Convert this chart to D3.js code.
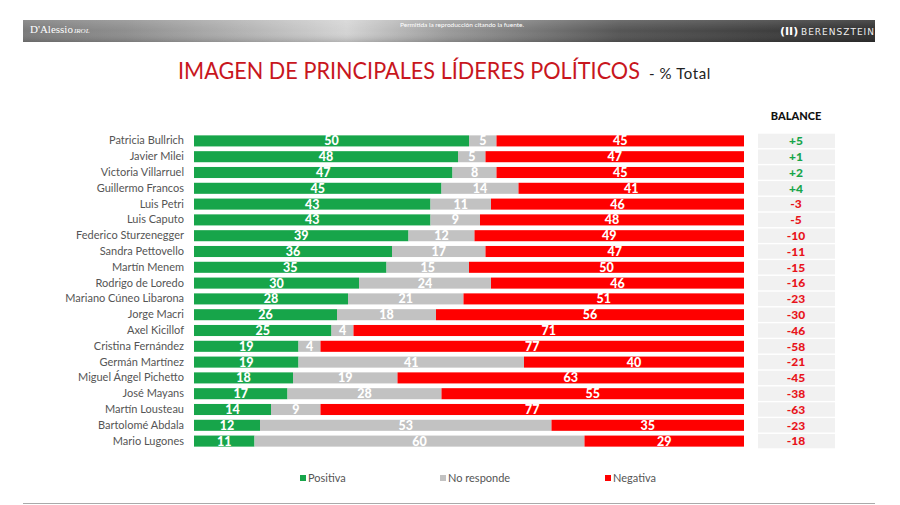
<!DOCTYPE html>
<html><head><meta charset="utf-8">
<script src="https://cdn.jsdelivr.net/npm/d3@7"></script>
<style>body{margin:0;background:#fff}svg{display:block}</style>
</head><body>
<svg id="c" width="900" height="505"></svg>
<script>
const names = ["Patricia Bullrich","Javier Milei ","Victoria Villarruel","Guillermo Francos","Luis Petri","Luis Caputo","Federico Sturzenegger","Sandra Pettovello","Martín Menem","Rodrigo de Loredo","Mariano Cúneo Libarona","Jorge Macri","Axel Kicillof","Cristina Fernández","Germán Martínez","Miguel Ángel Pichetto","José Mayans","Martín Lousteau","Bartolomé Abdala","Mario Lugones"];
const positiva = [50,48,47,45,43,43,39,36,35,30,28,26,25,19,19,18,17,14,12,11];
const noResponde = [5,5,8,14,11,9,12,17,15,24,21,18,4,4,41,19,28,9,53,60];
const negativa = [45,47,45,41,46,48,49,47,50,46,51,56,71,77,40,63,55,77,35,29];
const balance = ["+5","+1","+2","+4","-3","-5","-10","-11","-15","-16","-23","-30","-46","-58","-21","-45","-38","-63","-23","-18"];
const seriesNames = ["Positiva","No responde","Negativa"];
const colors = ["#17a54a","#c2c2c2","#ff0000"];

const svg = d3.select("#c");
const defs = svg.append("defs");
const g1 = defs.append("linearGradient").attr("id","hdr").attr("x1","0").attr("x2","1").attr("y1","0").attr("y2","0");
[[0,"#7a7a7a"],[0.12,"#8e8e8e"],[0.38,"#d4d4d4"],[0.5,"#9a9a9a"],[0.7,"#555"],[1,"#2e2e2e"]].forEach(([o,c])=>g1.append("stop").attr("offset",o).attr("stop-color",c));
const g2 = defs.append("linearGradient").attr("id","hdrv").attr("x1","0").attr("x2","0").attr("y1","0").attr("y2","1");
[[0,"rgba(255,255,255,0.15)"],[0.5,"rgba(255,255,255,0)"],[1,"rgba(0,0,0,0.15)"]].forEach(([o,c])=>g2.append("stop").attr("offset",o).attr("stop-color",c));

// header bar
svg.append("rect").attr("x",23).attr("y",20).attr("width",852).attr("height",22).attr("fill","url(#hdr)");
svg.append("rect").attr("x",23).attr("y",20).attr("width",852).attr("height",22).attr("fill","url(#hdrv)");
svg.append("text").attr("x",30).attr("y",33).attr("font-family","Liberation Serif, serif").attr("font-size",11).attr("fill","#fff").text("D'Alessio");
svg.append("text").attr("x",74).attr("y",33).attr("font-family","Liberation Serif, serif").attr("font-style","italic").attr("font-size",7).attr("fill","#fff").text("IROL");
svg.append("text").attr("x",462).attr("y",27).attr("text-anchor","middle").attr("font-family","Liberation Sans Narrow, Lato, sans-serif").attr("font-size",6.5).attr("fill","#fff").text("Permitida la reproducción citando la fuente.");
svg.append("text").attr("x",780).attr("y",35).attr("font-family","DejaVu Sans, sans-serif").attr("font-weight","bold").attr("font-size",11).attr("fill","#fff").text("(II)");
svg.append("text").attr("x",801).attr("y",35).attr("font-family","DejaVu Sans, sans-serif").attr("font-size",9).attr("letter-spacing",1).attr("fill","#eee").text("BERENSZTEIN");

// title (horizontally condensed to mimic the narrow original face)
const t1 = svg.append("text").attr("font-family","Lato, sans-serif")
  .attr("fill","#c8161d").attr("font-size",24)
  .text("IMAGEN DE PRINCIPALES LÍDERES POLÍTICOS");
const w1 = t1.node().getComputedTextLength();
t1.attr("transform",`translate(178,79) scale(${462/w1},1)`);
svg.append("text").attr("x",649).attr("y",79).attr("font-family","Lato, sans-serif")
  .attr("fill","#222").attr("font-size",15).attr("letter-spacing",0.6).text("- % Total");

// scales
const y = d3.scaleBand().domain(names).range([133,449]).paddingInner(0.3).paddingOuter(0.15);
const x = d3.scaleLinear().domain([0,100]).range([194,744]);

const rows = names.map((n,i)=>({name:n, vals:[positiva[i],noResponde[i],negativa[i]], bal:balance[i]}));
const stack = rows.map(r=>{let acc=0;return r.vals.map((v,k)=>{const s={x0:acc,x1:acc+v,v,k,name:r.name};acc+=v;return s;});}).flat();

// y axis labels
const yAxis = d3.axisLeft(y).tickSize(0).tickPadding(10);
const ya = svg.append("g").attr("transform","translate(194,0)").call(yAxis);
ya.select(".domain").remove();
ya.selectAll("text").attr("font-family","Lato, sans-serif").attr("font-size",11).attr("fill","#555");

// bars
svg.append("g").selectAll("rect").data(stack).join("rect")
  .attr("x",d=>x(d.x0)).attr("width",d=>x(d.x1)-x(d.x0))
  .attr("y",d=>y(d.name)).attr("height",y.bandwidth())
  .attr("fill",d=>colors[d.k]);
svg.append("g").selectAll("text").data(stack).join("text")
  .attr("x",d=>(x(d.x0)+x(d.x1))/2).attr("y",d=>y(d.name)+y.bandwidth()/2+4.4)
  .attr("text-anchor","middle").attr("font-family","Lato, sans-serif").attr("font-weight","900")
  .attr("font-size",12.5).attr("fill","#fff").text(d=>d.v);

// balance column
svg.append("text").attr("x",796).attr("y",120).attr("text-anchor","middle").attr("font-family","Lato, sans-serif").attr("font-weight","900").attr("font-size",11).attr("fill","#111").text("BALANCE");
const bg = svg.append("g");
bg.selectAll("rect").data(rows).join("rect")
  .attr("x",758).attr("width",77)
  .attr("y",d=>y(d.name)+y.bandwidth()/2-7.2).attr("height",14.4)
  .attr("fill","#f1f1f1");
bg.selectAll("text").data(rows).join("text")
  .attr("x",796).attr("y",d=>y(d.name)+y.bandwidth()/2+4.3)
  .attr("text-anchor","middle").attr("font-family","Lato, sans-serif").attr("font-weight","900").attr("font-size",12)
  .attr("fill",d=>d.bal.startsWith("+")?"#17a54a":"#e8141b").text(d=>d.bal);

// legend
const legX = [300,440,605];
const lg = svg.append("g").selectAll("g").data(seriesNames).join("g").attr("transform",(d,i)=>`translate(${legX[i]},478)`);
lg.append("rect").attr("x",0).attr("y",-3).attr("width",6).attr("height",6).attr("fill",(d,i)=>colors[i]);
lg.append("text").attr("x",8).attr("y",4).attr("font-family","Lato, sans-serif").attr("font-size",11).attr("fill","#555").text(d=>d);

// bottom line
svg.append("line").attr("x1",23).attr("x2",875).attr("y1",503.5).attr("y2",503.5).attr("stroke","#aaa").attr("stroke-width",1);
</script>
</body></html>
